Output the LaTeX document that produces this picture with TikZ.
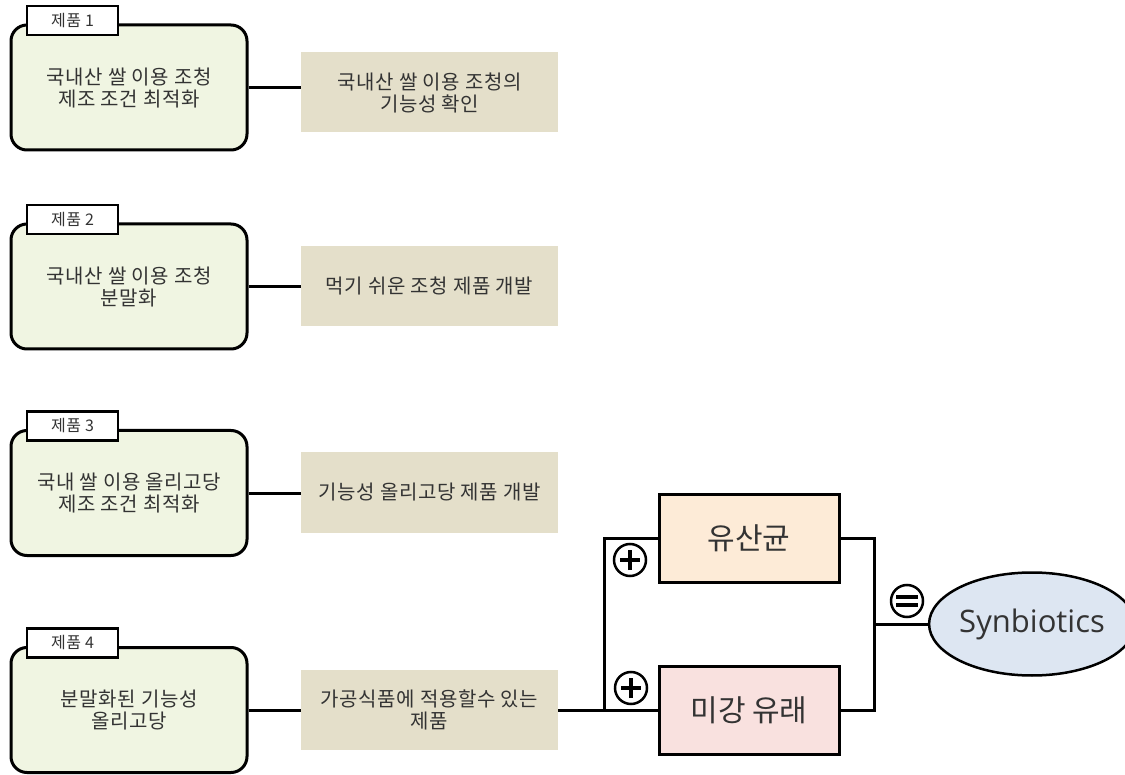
\documentclass[tikz,border=0pt]{standalone}
\usepackage{fontspec}
\usetikzlibrary{shapes.geometric}
\setmainfont{Noto Sans}
\newfontfamily\kr{Noto Sans CJK KR}[LetterSpace=3]
\newfontfamily\krb{Noto Sans CJK KR}
\newfontfamily\syn{Open Sans}
\definecolor{greenfill}{HTML}{F0F5E2}
\definecolor{tanfill}{HTML}{E4DFCA}
\definecolor{peach}{HTML}{FDEBD7}
\definecolor{pink}{HTML}{F9E1DF}
\definecolor{lightblue}{HTML}{DDE6F2}
\definecolor{txt}{HTML}{333333}
\tikzset{
  greenbox/.style={draw=black, line width=3pt, rounded corners=16pt, fill=greenfill,
    minimum width=236pt, minimum height=125pt, align=center, text=txt,
    font=\kr\fontsize{20}{22}\selectfont},
  tabbox/.style={draw=black, line width=2.5pt, fill=white, minimum width=91pt,
    minimum height=29pt, text=txt, font=\kr\fontsize{16}{18}\selectfont},
  tanbox/.style={fill=tanfill, minimum width=257pt, minimum height=80pt, align=center,
    text=txt, font=\kr\fontsize{20}{22}\selectfont},
  rbox/.style={draw=black, line width=3pt, minimum width=180pt, minimum height=88pt,
    text=txt, font=\krb\fontsize{30}{34}\selectfont},
  conn/.style={draw=black, line width=3pt},
  opcirc/.style={circle, draw=black, line width=2.5pt, fill=white, minimum size=32pt, inner sep=0pt},
  opbar/.style={line width=4pt, draw=black}
}
\begin{document}
\begin{tikzpicture}[x=1pt,y=-1pt]
\useasboundingbox[fill=white] (0,0) rectangle (1125,775);

% left column
\node[greenbox] (g1) at (129,87.5) {국내산 쌀 이용 조청\\제조 조건 최적화};
\node[tabbox] (t1) at (72.5,20.5) {제품 1};
\node[greenbox] (g2) at (129,286.5) {국내산 쌀 이용 조청\\분말화};
\node[tabbox] (t2) at (72.5,219.5) {제품 2};
\node[greenbox] (g3) at (129,493) {국내 쌀 이용 올리고당\\제조 조건 최적화};
\node[tabbox] (t3) at (72.5,426) {제품 3};
\node[greenbox] (g4) at (129,710) {분말화된 기능성\\올리고당};
\node[tabbox] (t4) at (72.5,643) {제품 4};

% tan column
\node[tanbox] (n1) at (429.5,92.5) {국내산 쌀 이용 조청의\\기능성 확인};
\node[tanbox] (n2) at (429.5,286) {먹기 쉬운 조청 제품 개발};
\node[tanbox] (n3) at (429.5,492.5) {기능성 올리고당 제품 개발};
\node[tanbox] (n4) at (429.5,710) {가공식품에 적용할수 있는\\제품};

\draw[conn] (g1.east) -- (g1.east -| n1.west);
\draw[conn] (g2.east) -- (g2.east -| n2.west);
\draw[conn] (g3.east) -- (g3.east -| n3.west);
\draw[conn] (g4.east) -- (g4.east -| n4.west);

% right part
\node[rbox, fill=peach] (u) at (749,538) {유산균};
\node[rbox, fill=pink] (m) at (749,710) {미강 유래};
\node[ellipse, draw=black, line width=2.5pt, fill=lightblue, minimum width=182pt,
  minimum height=103pt, inner sep=0pt, text=txt, font=\syn\fontsize{31}{34}\selectfont]
  (s) at (1032,624) {Synbiotics};

\coordinate (j) at (604,710);
\coordinate (k) at (874,710);
\draw[conn] (n4.east) -- (m.west);
\draw[conn] (j) |- (u.west);
\draw[conn] (u.east) -| (k) -- (m.east);
\draw[conn] (k |- s.west) -- (s.west);

% operators
\node[opcirc] (p1) at (630,560) {};
\draw[opbar] ([xshift=-10pt]p1.center) -- ([xshift=10pt]p1.center);
\draw[opbar] ([yshift=-10pt]p1.center) -- ([yshift=10pt]p1.center);
\node[opcirc] (p2) at (631,688) {};
\draw[opbar] ([xshift=-10pt]p2.center) -- ([xshift=10pt]p2.center);
\draw[opbar] ([yshift=-10pt]p2.center) -- ([yshift=10pt]p2.center);
\node[opcirc] (e1) at (907,601) {};
\draw[opbar] ([xshift=-11pt,yshift=-4pt]e1.center) -- ([xshift=11pt,yshift=-4pt]e1.center);
\draw[opbar] ([xshift=-11pt,yshift=4pt]e1.center) -- ([xshift=11pt,yshift=4pt]e1.center);
\end{tikzpicture}
\end{document}
